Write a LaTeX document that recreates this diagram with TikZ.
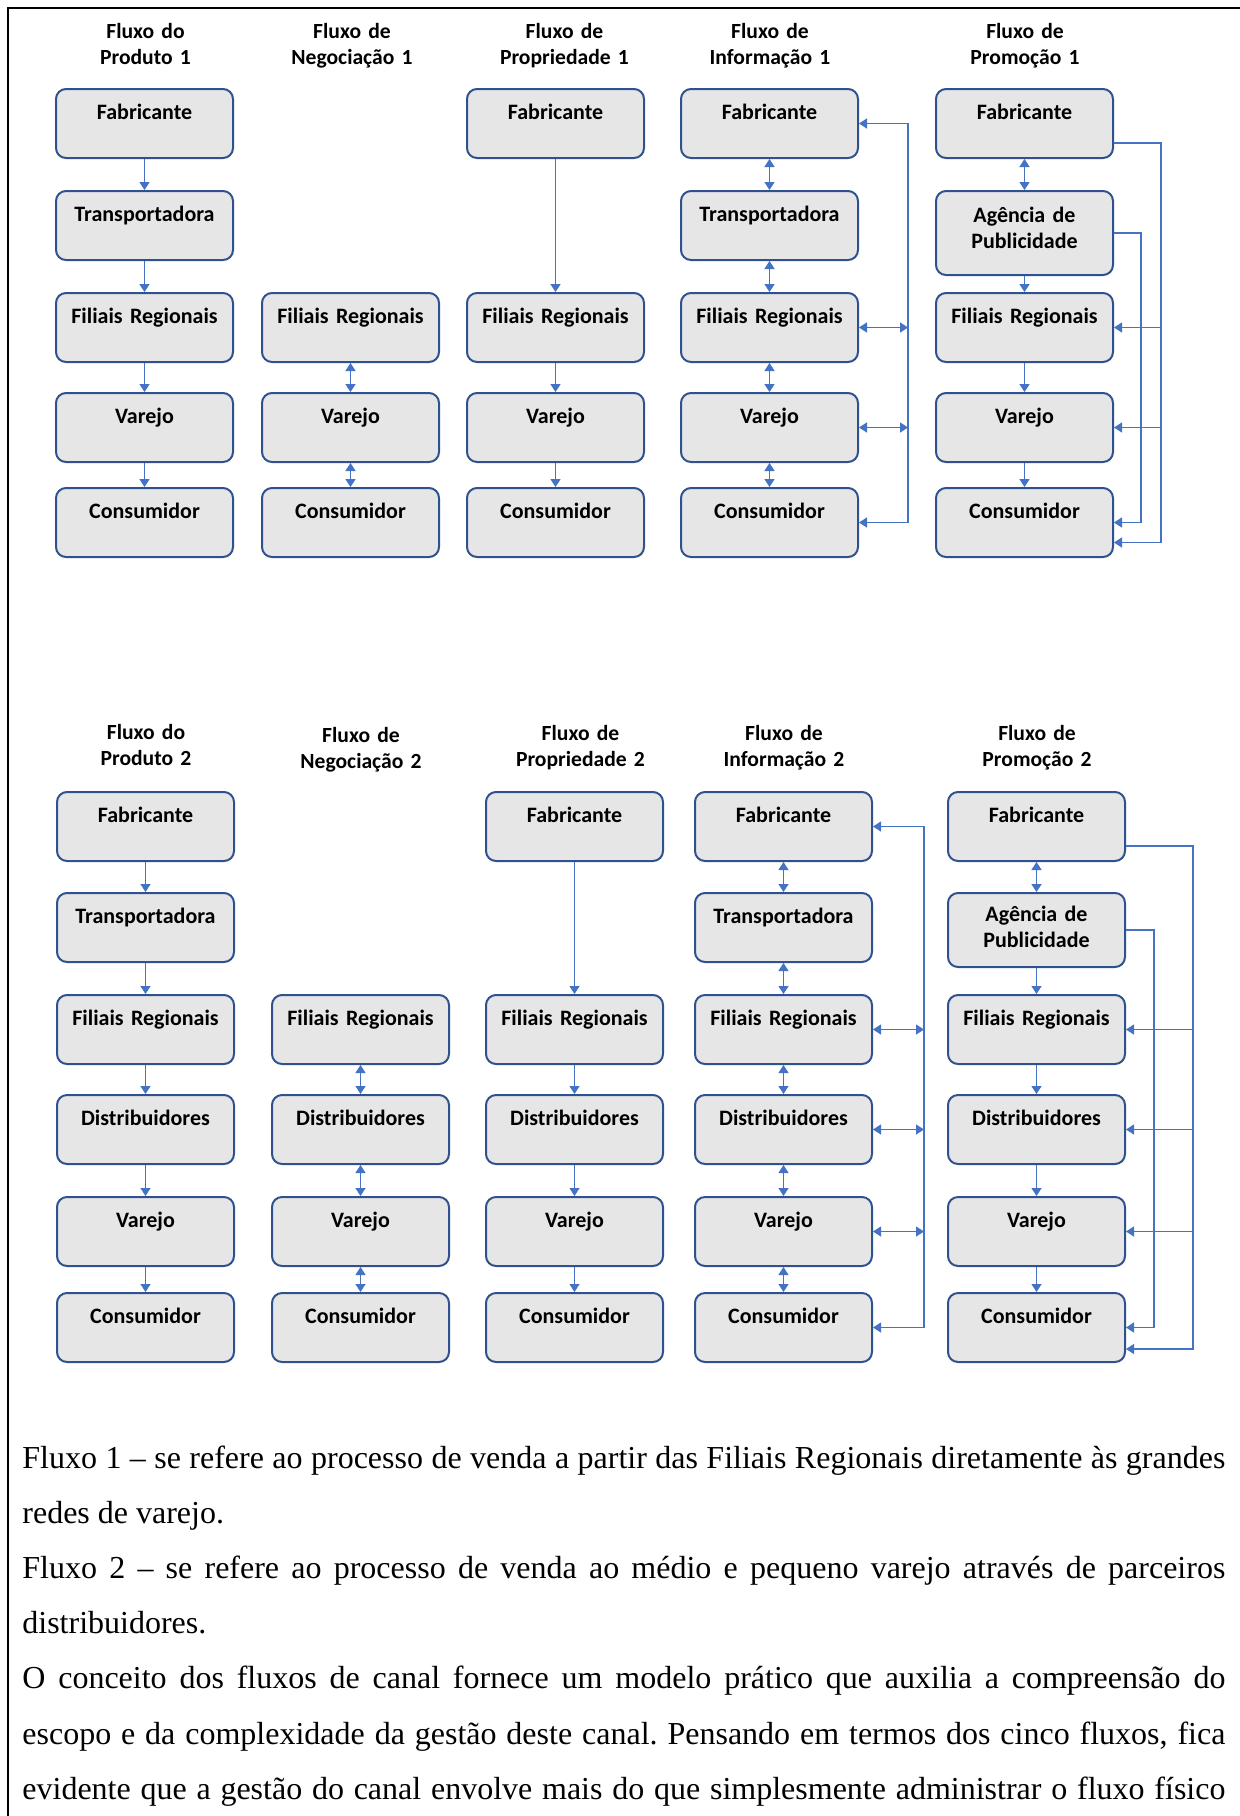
\documentclass[tikz,border=0pt]{standalone}
\usepackage{fontspec}
\setmainfont{Liberation Serif}
\newfontfamily\caixafont{Carlito}
\usetikzlibrary{arrows.meta,calc}

\definecolor{azul}{RGB}{68,114,196}
\definecolor{azulborda}{RGB}{47,82,143}
\definecolor{cinza}{RGB}{231,230,230}

\tikzset{
  etapa/.style={draw=azulborda, fill=cinza, line width=1pt, rounded corners=5pt,
    anchor=north, text width=88.5pt, align=center, inner sep=0pt,
    text height=15pt, text depth=19.5pt,
    font=\caixafont\bfseries\fontsize{11}{13}\selectfont},
  titulo/.style={anchor=base, text width=90pt, align=center, inner sep=0pt,
    font=\caixafont\bfseries\fontsize{10.8}{13}\selectfont},
  seta/.style={draw=azul, line width=0.8pt, -{Triangle[width=5pt,length=4pt]}},
  setadupla/.style={draw=azul, line width=0.8pt,
    {Triangle[width=5pt,length=4pt]}-{Triangle[width=5pt,length=4pt]}},
  texto/.style={anchor=base west, text width=601.5pt, inner sep=0pt, align=justify,
    font=\fontsize{16}{27.6}\selectfont\frenchspacing}
}

\begin{document}
\begin{tikzpicture}[x=0.5pt,y=-0.5pt]
\useasboundingbox (0,0) rectangle (1240,1816);
%frame
\draw[line width=1.3pt] (1240,8) -- (8,8) -- (8,1816);

%titles, row 1
\foreach \x/\t/\n in {145.5/Fluxo do\\Produto 1/pd, 352/Fluxo de\\Negociação 1/ng,
  564.5/Fluxo de\\Propriedade 1/pp, 770/Fluxo de\\Informação 1/if, 1025/Fluxo de\\Promoção 1/pm}
\node[titulo] (tit1\n) at (\x,38) {\t};

%produto 1
\foreach \n/\t/\y in {fab/Fabricante/88, tra/Transportadora/190, fil/Filiais Regionais/292,
  var/Varejo/392, con/Consumidor/487}
\node[etapa] (pd1\n) at (144.5,\y) {\t};
\foreach \a/\b in {fab/tra, tra/fil, fil/var, var/con}
\draw[seta] (pd1\a) -- (pd1\b);

%negociacao 1
\foreach \n/\t/\y in {fil/Filiais Regionais/292, var/Varejo/392, con/Consumidor/487}
\node[etapa] (ng1\n) at (350.5,\y) {\t};
\foreach \a/\b in {fil/var, var/con}
\draw[setadupla] (ng1\a) -- (ng1\b);

%propriedade 1
\foreach \n/\t/\y in {fab/Fabricante/88, fil/Filiais Regionais/292, var/Varejo/392, con/Consumidor/487}
\node[etapa] (pp1\n) at (555.5,\y) {\t};
\foreach \a/\b in {fab/fil, fil/var, var/con}
\draw[seta] (pp1\a) -- (pp1\b);

%informacao 1
\foreach \n/\t/\y in {fab/Fabricante/88, tra/Transportadora/190, fil/Filiais Regionais/292,
  var/Varejo/392, con/Consumidor/487}
\node[etapa] (if1\n) at (769.5,\y) {\t};
\foreach \a/\b in {fab/tra, tra/fil, fil/var, var/con}
\draw[setadupla] (if1\a) -- (if1\b);
\coordinate (if1lado) at (908,0);
\draw[setadupla] (if1con.east) -- (if1con.east -| if1lado) -- (if1fab.east -| if1lado) -- (if1fab.east);
\foreach \n in {fil,var}
\draw[setadupla] (if1\n.east) -- (if1\n.east -| if1lado);

%promocao 1
\foreach \n/\t/\y in {fab/Fabricante/88, fil/Filiais Regionais/292, var/Varejo/392, con/Consumidor/487}
\node[etapa] (pm1\n) at (1024.5,\y) {\t};
\node[etapa, text height=15.5pt, text depth=26.5pt] (pm1age) at (1024.5,190) {Agência de\\Publicidade};
\draw[setadupla] (pm1fab) -- (pm1age);
\foreach \a/\b in {age/fil, fil/var, var/con}
\draw[seta] (pm1\a) -- (pm1\b);
\coordinate (pm1ext) at (1161,0);
\coordinate (pm1int) at (1141,0);
\coordinate (pm1sai) at ($(pm1fab.east)+(0,19.5)$);
\coordinate (pm1che) at ($(pm1con.east)+(0,20)$);
\draw[seta] (pm1sai) -- (pm1sai -| pm1ext) -- (pm1che -| pm1ext) -- (pm1che);
\foreach \n in {fil,var}
\draw[seta, line width=0.6pt] (pm1\n.east -| pm1ext) -- (pm1\n.east);
\draw[seta] (pm1age.east) -- (pm1age.east -| pm1int) -- (pm1con.east -| pm1int) -- (pm1con.east);

%titles, row 2
\foreach \x/\t/\n/\y in {146/Fluxo do\\Produto 2/pd/739, 361/Fluxo de\\Negociação 2/ng/742,
  580.5/Fluxo de\\Propriedade 2/pp/740, 784/Fluxo de\\Informação 2/if/740, 1037/Fluxo de\\Promoção 2/pm/740}
\node[titulo] (tit2\n) at (\x,\y) {\t};

%produto 2
\foreach \n/\t/\y in {fab/Fabricante/791, tra/Transportadora/892, fil/Filiais Regionais/994,
  dis/Distribuidores/1094, var/Varejo/1196, con/Consumidor/1292}
\node[etapa] (pd2\n) at (145.5,\y) {\t};
\foreach \a/\b in {fab/tra, tra/fil, fil/dis, dis/var, var/con}
\draw[seta, line width=0.6pt] (pd2\a) -- (pd2\b);

%negociacao 2
\foreach \n/\t/\y in {fil/Filiais Regionais/994, dis/Distribuidores/1094, var/Varejo/1196, con/Consumidor/1292}
\node[etapa] (ng2\n) at (360.5,\y) {\t};
\foreach \a/\b in {fil/dis, dis/var, var/con}
\draw[setadupla, line width=0.6pt] (ng2\a) -- (ng2\b);

%propriedade 2
\foreach \n/\t/\y in {fab/Fabricante/791, fil/Filiais Regionais/994, dis/Distribuidores/1094,
  var/Varejo/1196, con/Consumidor/1292}
\node[etapa] (pp2\n) at (574.5,\y) {\t};
\foreach \a/\b in {fab/fil, fil/dis, dis/var, var/con}
\draw[seta, line width=0.6pt] (pp2\a) -- (pp2\b);

%informacao 2
\foreach \n/\t/\y in {fab/Fabricante/791, tra/Transportadora/892, fil/Filiais Regionais/994,
  dis/Distribuidores/1094, var/Varejo/1196, con/Consumidor/1292}
\node[etapa] (if2\n) at (783.5,\y) {\t};
\foreach \a/\b in {fab/tra, tra/fil, fil/dis, dis/var, var/con}
\draw[setadupla, line width=0.6pt] (if2\a) -- (if2\b);
\coordinate (if2lado) at (924,0);
\draw[setadupla, line width=0.6pt] (if2con.east) -- (if2con.east -| if2lado) -- (if2fab.east -| if2lado) -- (if2fab.east);
\foreach \n in {fil,dis,var}
\draw[setadupla, line width=0.6pt] (if2\n.east) -- (if2\n.east -| if2lado);

%promocao 2
\foreach \n/\t/\y in {fab/Fabricante/791, fil/Filiais Regionais/994, dis/Distribuidores/1094,
  var/Varejo/1196, con/Consumidor/1292}
\node[etapa] (pm2\n) at (1036.5,\y) {\t};
\node[etapa, text height=14pt, text depth=23pt] (pm2age) at (1036.5,892) {Agência de\\Publicidade};
\draw[setadupla] (pm2fab) -- (pm2age);
\foreach \a/\b in {age/fil, fil/dis, dis/var, var/con}
\draw[seta, line width=0.6pt] (pm2\a) -- (pm2\b);
\coordinate (pm2ext) at (1193,0);
\coordinate (pm2int) at (1154,0);
\coordinate (pm2sai) at ($(pm2fab.east)+(0,19.5)$);
\coordinate (pm2che) at ($(pm2con.east)+(0,21.5)$);
\draw[seta, line width=0.6pt] (pm2sai) -- (pm2sai -| pm2ext) -- (pm2che -| pm2ext) -- (pm2che);
\foreach \n in {fil,dis,var}
\draw[seta, line width=0.6pt] (pm2\n.east -| pm2ext) -- (pm2\n.east);
\draw[seta] (pm2age.east) -- (pm2age.east -| pm2int) -- (pm2con.east -| pm2int) -- (pm2con.east);

%text below
\node[texto] (legenda) at (22,1468) {Fluxo 1 – se refere ao processo de venda a partir das Filiais Regionais diretamente às grandes\linebreak redes de varejo.\par
Fluxo 2 – se refere ao processo de venda ao médio e pequeno varejo através de parceiros\linebreak distribuidores.\par
{\parfillskip=0pt O conceito dos fluxos de canal fornece um modelo prático que auxilia a compreensão do\linebreak escopo e da complexidade da gestão deste canal. Pensando em termos dos cinco fluxos, fica\linebreak evidente que a gestão do canal envolve mais do que simplesmente administrar o fluxo físico\par}};

\end{tikzpicture}
\end{document}
